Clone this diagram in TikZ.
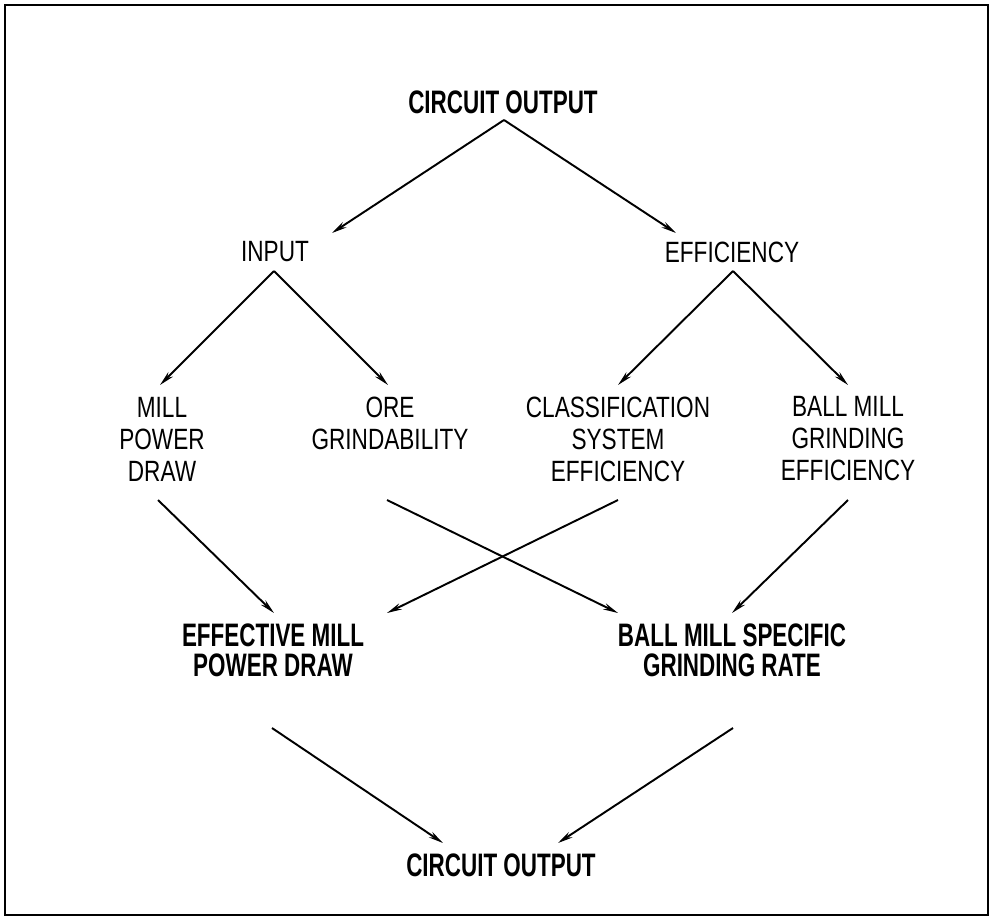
\documentclass[tikz,border=0pt]{standalone}
\usepackage{fontspec}
\setmainfont{Liberation Sans}[FakeStretch=0.77]
\newfontfamily\headfont{Liberation Sans}[FakeStretch=0.69]
\usetikzlibrary{arrows.meta,calc}
\begin{document}
\begin{tikzpicture}[x=0.2mm,y=-0.2mm,
  item/.style={inner sep=0pt,align=center,font=\fontsize{16.7}{18.2}\selectfont},
  head/.style={inner sep=0pt,align=center,font=\headfont\bfseries\fontsize{18.5}{17.1}\selectfont},
  link/.style={line width=1.1pt,-{Stealth[length=3mm,width=1.3mm]}}]
\useasboundingbox (0,0) rectangle (990,920);
\draw[line width=1.2pt] (5,5) rectangle (988,915);

% levels of the tree
\node[head] (top)    at (503,102) {CIRCUIT OUTPUT};
\node[item] (input)  at (275,252) {INPUT};
\node[item] (eff)    at (732,252) {EFFICIENCY};
\node[item] (mill)   at (162,439) {MILL\\POWER\\DRAW};
\node[item] (ore)    at (390,423) {ORE\\GRINDABILITY};
\node[item] (cls)    at (618,439) {CLASSIFICATION\\SYSTEM\\EFFICIENCY};
\node[item] (bmg)    at (848,439) {BALL MILL\\GRINDING\\EFFICIENCY};
\node[head] (emp)    at (273,650) {EFFECTIVE MILL\\POWER DRAW};
\node[head] (bms)    at (732,650) {BALL MILL SPECIFIC\\GRINDING RATE};
\node[head] (bottom) at (501,865) {CIRCUIT OUTPUT};

% connectors
\draw[link] ($(top)+(1,18)$) -- ($(input)+(57,-19)$);
\draw[link] ($(top)+(1,18)$) -- ($(eff)+(-56,-19)$);
\draw[link] ($(input)+(-1,19)$) -- ($(mill)+(-2,-54)$);
\draw[link] ($(input)+(-1,19)$) -- ($(ore)+(-2,-38)$);
\draw[link] ($(eff)+(1,19)$) -- ($(cls)+(0,-54)$);
\draw[link] ($(eff)+(1,19)$) -- ($(bmg)+(0,-54)$);
\draw[link] ($(mill)+(-4,61)$) -- ($(emp)+(1,-37)$);
\draw[link] ($(ore)+(-3,77)$) -- ($(bms)+(-114,-37)$);
\draw[link] ($(cls)+(0,61)$) -- ($(emp)+(114,-37)$);
\draw[link] ($(bmg)+(0,61)$) -- ($(bms)+(0,-37)$);
\draw[link] ($(emp)+(-1,78)$) -- ($(bottom)+(-58,-22)$);
\draw[link] ($(bms)+(1,78)$) -- ($(bottom)+(57,-22)$);
\end{tikzpicture}
\end{document}
